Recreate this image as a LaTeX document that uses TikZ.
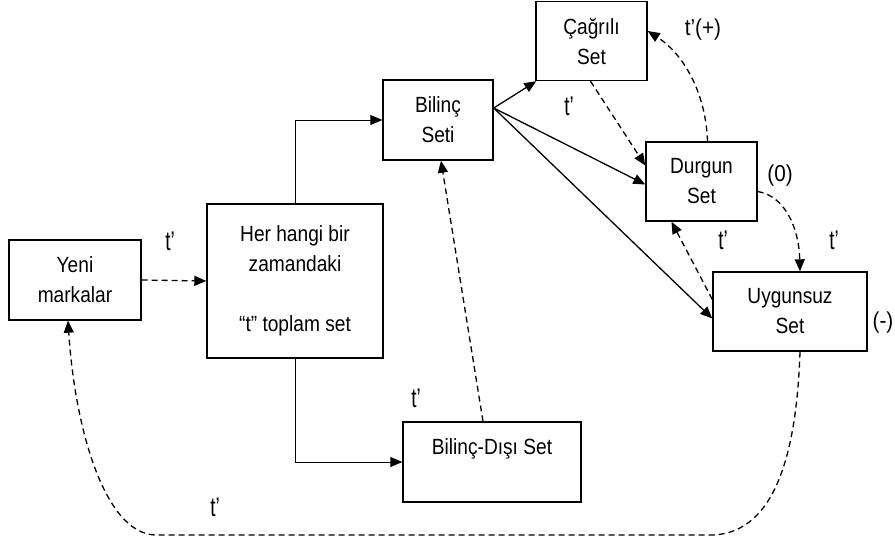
\documentclass[tikz,border=0pt]{standalone}
\usepackage{fontspec}
\setmainfont{Liberation Sans}
\newfontfamily\boxfont{Liberation Sans}[FakeStretch=0.87]
\newfontfamily\tfont{Liberation Sans}[FakeStretch=0.7]
\newfontfamily\pfont{Liberation Sans}[FakeStretch=0.9]
\usetikzlibrary{arrows.meta}
\begin{document}
\begin{tikzpicture}[x=1pt,y=-1pt,
 box/.style={draw,line width=1.4pt,inner sep=0pt,align=center,font=\boxfont\fontsize{22}{30}\selectfont},
 lbl/.style={inner sep=0pt,font=\tfont\fontsize{27}{30}\selectfont},
 plbl/.style={inner sep=0pt,font=\pfont\fontsize{23}{26}\selectfont},
 arr/.style={line width=1.3pt,-{Triangle[length=12pt,width=10pt]}},
 dsh/.style={arr,dash pattern=on 6pt off 4pt},
 thinarr/.style={line width=0.9pt,-{Triangle[length=12pt,width=10pt]}}]
\useasboundingbox (0,0) rectangle (895,541);
% boxes
\node[box,minimum width=132pt,minimum height=80pt] (yeni) at (75,280) {Yeni\\markalar};
\node[box,minimum width=176pt,minimum height=154pt] (her) at (295,281) {Her hangi bir\\zamandaki\\[30pt]“t” toplam set};
\node[box,minimum width=110pt,minimum height=80pt] (bilinc) at (438,120) {Bilinç\\Seti};
\node[box,minimum width=111pt,minimum height=79pt] (cagrili) at (591.5,41) {Çağrılı\\Set};
\node[box,minimum width=111pt,minimum height=79pt] (durgun) at (701.5,181.5) {Durgun\\Set};
\node[box,minimum width=154pt,minimum height=79pt] (uygunsuz) at (790,311.5) {Uygunsuz\\Set};
\node[box,minimum width=178pt,minimum height=80pt] (disi) at (492,462) {Bilinç-Dışı Set\\~};
% labels
\node[lbl] (l1) at (170,241) {t’};
\node[plbl] (l2) at (703,30) {t’(+)};
\node[lbl] (l3) at (569,106) {t’};
\node[plbl] (l4) at (780,176) {(0)};
\node[lbl] (l5) at (723,240) {t’};
\node[lbl] (l6) at (834,240) {t’};
\node[plbl] (l7) at (883,323) {(-)};
\node[lbl] (l8) at (416,398) {t’};
\node[lbl] (l9) at (215,507) {t’};
% connectors
\draw[dsh] (yeni.east) -- (her.west);
\draw[thinarr] (her.north) |- (bilinc.west);
\draw[thinarr] (her.south) |- (disi.west);
\draw[arr] ([yshift=12pt]bilinc.east) -- ([xshift=1pt]cagrili.south west);
\draw[arr] ([yshift=12pt]bilinc.east) -- ([yshift=-3pt]durgun.west);
\draw[arr] ([yshift=12pt]bilinc.east) -- ([yshift=-7pt]uygunsuz.west);
\draw[dsh] ([xshift=-1pt]cagrili.south) -- ([yshift=16pt]durgun.west);
\draw[dsh] ([xshift=6pt]durgun.north) .. controls (706,95) and (685,55) .. ([yshift=10pt]cagrili.east);
\draw[dsh] ([yshift=-10pt]durgun.east) .. controls (785,196) and (799,228) .. ([xshift=10pt]uygunsuz.north);
\draw[dsh] ([yshift=12pt]uygunsuz.west) -- ([xshift=-30pt]durgun.south);
\draw[dsh] ([xshift=-9pt]disi.north) -- ([xshift=3pt]bilinc.south);
\coordinate (br) at (710,535);
\coordinate (bl) at (155,535);
\draw[dsh] ([xshift=10pt]uygunsuz.south) .. controls (797,440) and (780,535) .. (br) -- (bl) .. controls (105,533) and (75,430) .. ([xshift=-7pt]yeni.south);
\end{tikzpicture}
\end{document}
